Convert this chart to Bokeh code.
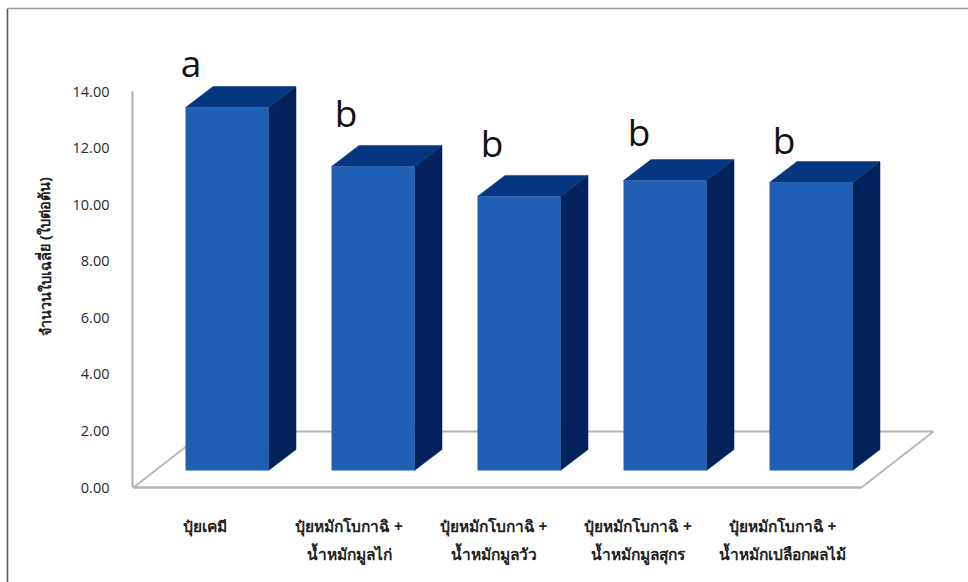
from bokeh.core.properties import value
from bokeh.embed import file_html
from bokeh.models import FixedTicker, LinearAxis, NumeralTickFormatter, Range1d
from bokeh.plotting import figure
from bokeh.resources import INLINE

label_line_1 = [
    "ปุ๋ยเคมี",
    "ปุ๋ยหมักโบกาฉิ +",
    "ปุ๋ยหมักโบกาฉิ +",
    "ปุ๋ยหมักโบกาฉิ +",
    "ปุ๋ยหมักโบกาฉิ +",
]
label_line_2 = [
    "",
    "น้ำหมักมูลไก่",
    "น้ำหมักมูลวัว",
    "น้ำหมักมูลสุกร",
    "น้ำหมักเปลือกผลไม้",
]
leaf_counts = [12.83, 10.75, 9.69, 10.25, 10.18]
group_letters = ["a", "b", "b", "b", "b"]
y_ticks = [0, 2, 4, 6, 8, 10, 12, 14]
y_title = "จำนวนใบเฉลี่ย (ใบต่อต้น)"

THAI_FONT = "Noto Sans"
FRONT, TOP, SIDE = "#1f5fb4", "#04377f", "#03225c"

W, H = 968, 582
PX_X = 146.0            # pixels per category
PX_Y = 396 / 14         # pixels per value unit
X0, Y0 = 226.5, 487     # pixel position of category 0 and of value 0
LABEL_PX_X = 144.5      # pixels per category on the label axes
LABEL_X0 = 204.0        # pixel position of the first category label


def dx(px):
    return px / PX_X


def dy(px):
    return px / PX_Y


x_start = -X0 / PX_X
y_start = (Y0 - H) / PX_Y

p = figure(
    width=W, height=H, output_backend="svg", toolbar_location=None,
    x_range=Range1d(x_start, x_start + dx(W)),
    y_range=Range1d(y_start, y_start + dy(H)),
    x_axis_location=None, y_axis_location=None,
    min_border=0, outline_line_color=None, background_fill_color="white",
)
p.grid.visible = False

# Outer frame of the chart area, left and top edges only
frame_x = x_start + dx(7)
frame_y = y_start + dy(H - 8)
p.line([frame_x, frame_x], [y_start, frame_y], line_color="#5a5a5a", line_width=1.6)
p.line([frame_x, x_start + dx(W)], [frame_y, frame_y], line_color="#9a9a9a", line_width=1.6)

# Floor of the 3D box
fl = [x_start + dx(133), x_start + dx(205), x_start + dx(933), x_start + dx(861)]
p.patch(fl, [0, dy(56), dy(56), 0], fill_color="white", line_color="#b9b6ae", line_width=1.8)

# Bars: front face, top face and side face, all rising from the raised base
half = dx(41.5)
base = dy(17)
dep_x, dep_y = dx(27.5), dy(21)
idx = list(range(len(leaf_counts)))
tops = [base + v for v in leaf_counts]
p.patches(
    [[i + half, i + half + dep_x, i + half + dep_x, i + half] for i in idx],
    [[base, base + dep_y, t + dep_y, t] for t in tops],
    fill_color=SIDE, line_color=SIDE, line_width=0.5,
)
p.patches(
    [[i - half, i - half + dep_x, i + half + dep_x, i + half] for i in idx],
    [[t, t + dep_y, t + dep_y, t] for t in tops],
    fill_color=TOP, line_color=TOP, line_width=0.5,
)
p.quad(
    left=[i - half for i in idx], right=[i + half for i in idx],
    bottom=[base] * len(idx), top=tops,
    fill_color=FRONT, line_color=None,
)

# Significance letters above each bar
letter_shift = [dx(-36), dx(-27), dx(-27), dx(-26), dx(-27)]
letter_gap = [dy(45), dy(54), dy(54), dy(49), dy(43)]
p.text(
    x=[i + s for i, s in zip(idx, letter_shift)],
    y=[t + g for t, g in zip(tops, letter_gap)],
    text=group_letters, text_font=value("Open Sans"), text_font_size="37px",
    text_color="#111111", text_align="center", text_baseline="middle",
)

# Value axis
y_axis = LinearAxis(
    fixed_location=x_start + dx(132), bounds=(0, 14),
    ticker=FixedTicker(ticks=y_ticks),
    formatter=NumeralTickFormatter(format="0.00"),
    axis_line_color="#ababab", axis_line_width=2,
    major_tick_line_color=None, minor_tick_line_color=None,
    major_label_standoff=17,
    major_label_text_font="Open Sans", major_label_text_font_size="14.5px",
    major_label_text_color="#2a2a2a",
)
p.add_layout(y_axis, "left")

# Rotated value-axis title
p.text(
    x=[x_start + dx(44)], y=[dy(Y0 - 256)], text=[y_title], angle=1.5708,
    text_font=value(THAI_FONT), text_font_size="14.5px", text_font_style="bold",
    text_color="#222222", text_align="center", text_baseline="middle",
)

# Category axes on their own scale: one axis for each line of the labels
label_start = -LABEL_X0 / LABEL_PX_X
p.extra_x_ranges["labels"] = Range1d(label_start, label_start + W / LABEL_PX_X)


def label_axis(lines, standoff, **line_props):
    axis = LinearAxis(
        x_range_name="labels", fixed_location=0,
        ticker=FixedTicker(ticks=idx),
        major_label_overrides=dict(enumerate(lines)),
        bounds=(label_start + 133 / LABEL_PX_X, label_start + 861 / LABEL_PX_X),
        major_tick_line_color=None, minor_tick_line_color=None,
        major_label_standoff=standoff,
        major_label_text_font=THAI_FONT, major_label_text_font_size="15.5px",
        major_label_text_font_style="bold", major_label_text_color="#222222",
        **line_props,
    )
    p.add_layout(axis, "below")


label_axis(label_line_1, 21, axis_line_color="#b9b6ae", axis_line_width=2)
label_axis(label_line_2, 49, axis_line_color=None)

open("out.html", "w").write(file_html(p, INLINE))
